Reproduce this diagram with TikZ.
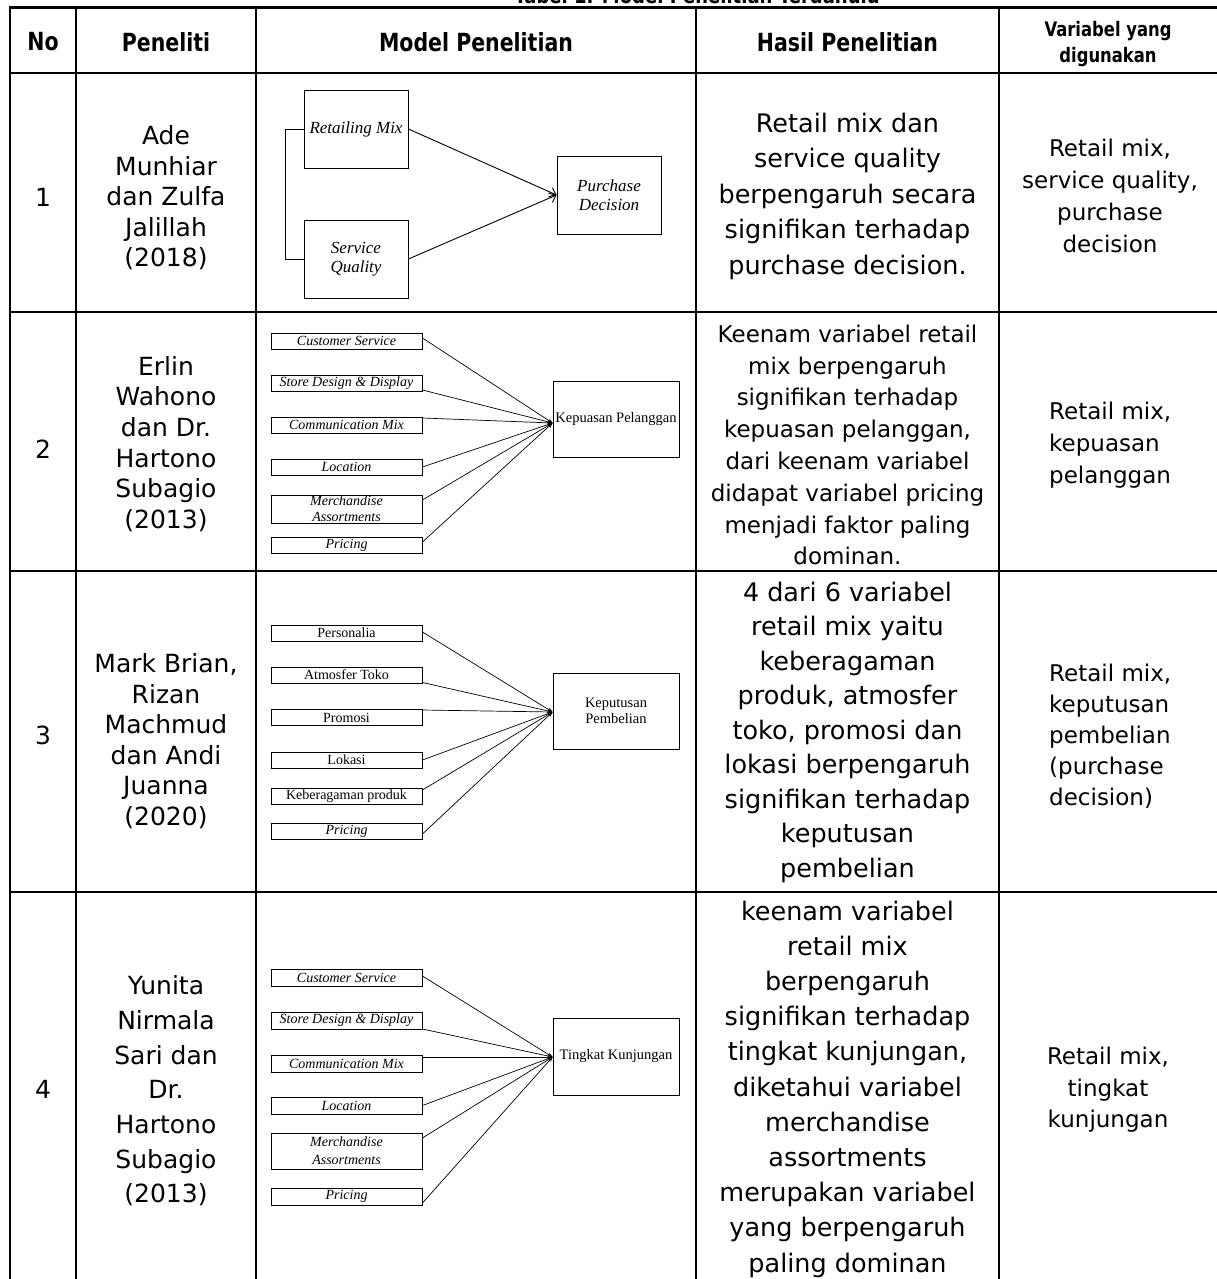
\documentclass[tikz,border=0pt]{standalone}
\usepackage{fontspec}
\setmainfont{DejaVu Sans}
\newfontfamily\hdrfont{DejaVu Sans}[FakeStretch=0.82]
\newfontfamily\tnr{Liberation Serif}
\usetikzlibrary{arrows.meta}
\newcommand\myfs[2]{\fontsize{#1pt}{#2pt}\selectfont}
\tikzset{
  gridline/.style={line width=2.3pt, line cap=rect},
  txt/.style={inner sep=0pt, align=center},
  hdr/.style={inner sep=0pt, align=center, font=\hdrfont\bfseries\myfs{25}{28}},
  dboxA/.style={draw, line width=0.9pt, inner sep=0pt, minimum width=104pt, minimum height=78pt, align=center, font=\tnr\itshape\myfs{17}{19}},
  dbox/.style={draw, line width=0.9pt, inner sep=0pt, minimum width=151pt, minimum height=16pt, align=center, font=\tnr\itshape\myfs{14}{16}},
  ubox/.style={dbox, font=\tnr\myfs{14}{16}},
  tbox/.style={draw, line width=0.9pt, inner sep=0pt, minimum width=126pt, minimum height=76pt, align=center, font=\tnr\myfs{14.5}{16}},
  conn/.style={line width=0.7pt, -{Stealth[length=5pt,width=4pt]}},
  connA/.style={line width=0.9pt, -{Straight Barb[length=6pt,width=10pt]}},
  plain/.style={line width=0.9pt}
}
\begin{document}
\begin{tikzpicture}[x=1pt,y=-1pt]
\fill[white] (0,0) rectangle (1217,1279);
\useasboundingbox (0,0) rectangle (1217,1279);
% title (cut off at top)
\node[anchor=base, inner sep=0pt, font=\hdrfont\bfseries\myfs{22}{26}] (title) at (697,4) {Tabel 1. Model Penelitian Terdahulu};
% table grid
\foreach \y in {7.5,73,312,571,892} \draw[gridline] (10,\y) -- (1217,\y);
\foreach \x in {10,76,256,696,999} \draw[gridline] (\x,7.5) -- (\x,1279);
% header
\node[hdr] (hno) at (43,42) {No};
\node[hdr] (hpen) at (166,42) {Peneliti};
\node[hdr] (hmod) at (476,42) {Model Penelitian};
\node[hdr] (hhas) at (847.5,42) {Hasil Penelitian};
\node[hdr, font=\hdrfont\bfseries\myfs{20}{26}] (hvar) at (1108,44) {Variabel yang\\digunakan};
% numbers
\node[txt, font=\myfs{25}{30}] (n1) at (43,197) {1};
\node[txt, font=\myfs{25}{30}] (n2) at (43,449) {2};
\node[txt, font=\myfs{25}{30}] (n3) at (43,735) {3};
\node[txt, font=\myfs{25}{30}] (n4) at (43,1089) {4};
% researchers
\node[txt, font=\myfs{25}{30.5}] (p1) at (166,198) {Ade\\Munhiar\\dan Zulfa\\Jalillah\\(2018)};
\node[txt, font=\myfs{25}{30.6}] (p2) at (166,444) {Erlin\\Wahono\\dan Dr.\\Hartono\\Subagio\\(2013)};
\node[txt, font=\myfs{25}{30.5}] (p3) at (166,741) {Mark Brian,\\Rizan\\Machmud\\dan Andi\\Juanna\\(2020)};
\node[txt, font=\myfs{25}{34.7}] (p4) at (166,1091) {Yunita\\Nirmala\\Sari dan\\Dr.\\Hartono\\Subagio\\(2013)};
% results
\node[txt, font=\myfs{25.5}{35.5}] (h1) at (847.5,196) {Retail mix dan\\service quality\\berpengaruh secara\\signifikan terhadap\\purchase decision.};
\node[txt, font=\myfs{23}{31.8}] (h2) at (847.5,445) {Keenam variabel retail\\mix berpengaruh\\signifikan terhadap\\kepuasan pelanggan,\\dari keenam variabel\\didapat variabel pricing\\menjadi faktor paling\\dominan.};
\node[txt, font=\myfs{25.5}{34.5}] (h3) at (847.5,732) {4 dari 6 variabel\\retail mix yaitu\\keberagaman\\produk, atmosfer\\toko, promosi dan\\lokasi berpengaruh\\signifikan terhadap\\keputusan\\pembelian};
\node[txt, font=\myfs{25.5}{35.2}] (h4) at (847.5,1089) {keenam variabel\\retail mix\\berpengaruh\\signifikan terhadap\\tingkat kunjungan,\\diketahui variabel\\merchandise\\assortments\\merupakan variabel\\yang berpengaruh\\paling dominan};
% variables used
\node[txt, font=\myfs{23}{32}] (v1) at (1110,196) {Retail mix,\\service quality,\\purchase\\decision};
\node[txt, align=left, anchor=west, font=\myfs{23}{32}] (v2) at (1049,445) {Retail mix,\\kepuasan\\pelanggan};
\node[txt, align=left, anchor=west, font=\myfs{23}{31}] (v3) at (1049,736) {Retail mix,\\keputusan\\pembelian\\(purchase\\decision)};
\node[txt, font=\myfs{23}{31.5}] (v4) at (1108,1090) {Retail mix,\\tingkat\\kunjungan};
% ---------- model 1
\node[dboxA] (rm) at (356,129) {Retailing Mix};
\node[dboxA] (sq) at (356,259) {Service\\Quality};
\node[dboxA] (pd) at (609,195) {Purchase\\Decision};
\draw[plain] (rm.west) -- ++(-18,0) |- (sq.west);
\draw[connA] (rm.east) -- (pd.west);
\draw[connA] (sq.east) -- (pd.west);
% ---------- model 2
\node[dbox] (cs2) at (346.5,341) {Customer Service};
\node[dbox] (sd2) at (346.5,383) {Store Design \& Display};
\node[dbox] (cm2) at (346.5,425) {Communication Mix};
\node[dbox] (lo2) at (346.5,467) {Location};
\node[dbox, minimum height=28pt] (ma2) at (346.5,509) {Merchandise\\Assortments};
\node[dbox] (pr2) at (346.5,545) {Pricing};
\node[tbox] (kp) at (616,419) {Kepuasan Pelanggan};
\coordinate (c2) at ([yshift=-4pt]kp.west);
\draw[conn] ([yshift=3pt]cs2.east) -- (c2);
\draw[conn] ([yshift=-7pt]sd2.east) -- (c2);
\draw[conn] ([yshift=7pt]cm2.east) -- (c2);
\draw[conn] (lo2.east) -- (c2);
\draw[conn] ([yshift=9pt]ma2.east) -- (c2);
\draw[conn] ([yshift=3pt]pr2.east) -- (c2);
% ---------- model 3
\node[ubox] (pe3) at (346.5,633) {Personalia};
\node[ubox] (at3) at (346.5,675) {Atmosfer Toko};
\node[ubox] (pm3) at (346.5,717.5) {Promosi};
\node[ubox] (lk3) at (346.5,760) {Lokasi};
\node[ubox] (kb3) at (346.5,796) {Keberagaman produk};
\node[dbox] (pr3) at (346.5,831) {Pricing};
\node[tbox] (kep) at (616,711) {Keputusan\\Pembelian};
\coordinate (c3) at ([yshift=-1pt]kep.west);
\draw[conn] ([yshift=1pt]pe3.east) -- (c3);
\draw[conn] ([yshift=-7.5pt]at3.east) -- (c3);
\draw[conn] ([yshift=7.5pt]pm3.east) -- (c3);
\draw[conn] (lk3.east) -- (c3);
\draw[conn] ([yshift=6pt]kb3.east) -- (c3);
\draw[conn] ([yshift=-3pt]pr3.east) -- (c3);
% ---------- model 4
\node[dbox, minimum height=17pt] (cs4) at (346.5,978) {Customer Service};
\node[dbox, minimum height=17pt] (sd4) at (346.5,1020.5) {Store Design \& Display};
\node[dbox, minimum height=17pt] (cm4) at (346.5,1063.5) {Communication Mix};
\node[dbox, minimum height=17pt] (lc4) at (346.5,1105.5) {Location};
\node[dbox, minimum height=36pt, font=\tnr\itshape\myfs{14}{18}] (ma4) at (346.5,1151) {Merchandise\\Assortments};
\node[dbox, minimum height=17pt] (pr4) at (346.5,1196.5) {Pricing};
\node[tbox, minimum height=77pt] (tk) at (616,1056.5) {Tingkat Kunjungan};
\coordinate (c4) at ([yshift=-0.5pt]tk.west);
\draw[conn] ([yshift=2pt]cs4.east) -- (c4);
\draw[conn] ([yshift=-8.5pt]sd4.east) -- (c4);
\draw[conn] ([yshift=6.5pt]cm4.east) -- (c4);
\draw[conn] (lc4.east) -- (c4);
\draw[conn] ([yshift=13pt]ma4.east) -- (c4);
\draw[conn] ([yshift=-6.5pt]pr4.east) -- (c4);
\end{tikzpicture}
\end{document}
